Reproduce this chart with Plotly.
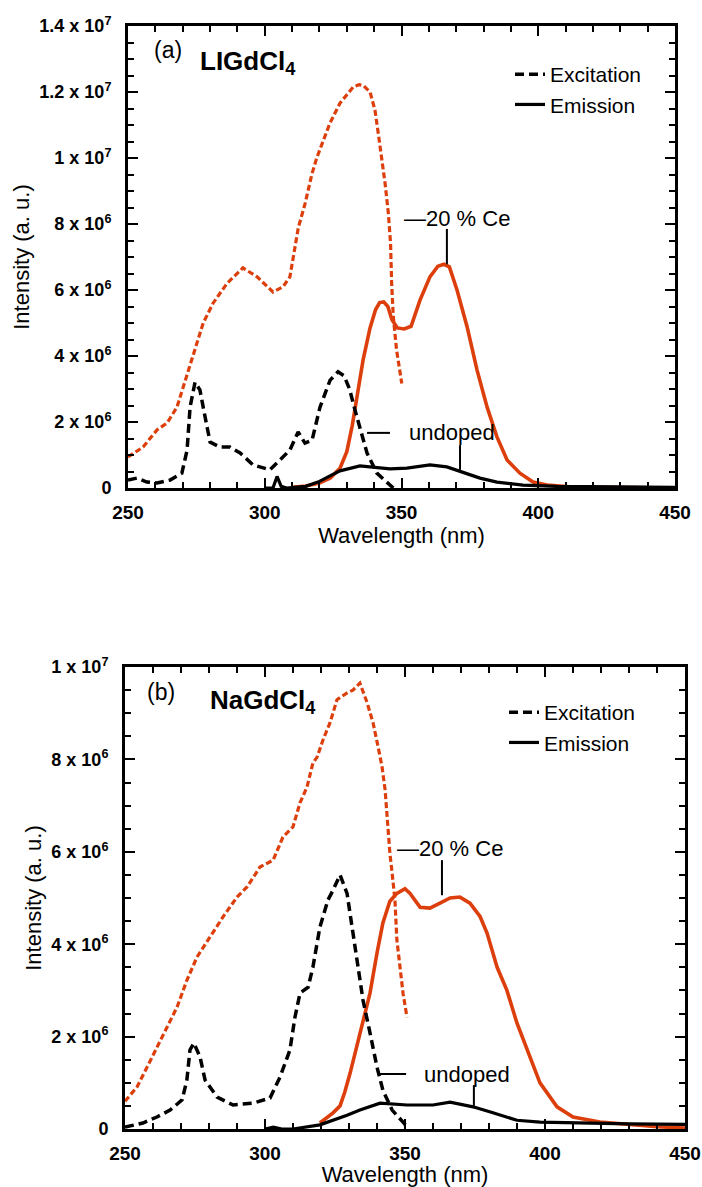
import plotly.graph_objects as go

# ---------------- DATA (intensity in units of 1e6, a.u.) ----------------
# Panel (a) LiGdCl4
a_ce_ex_wl = [250, 255.5, 260.6, 264.3, 267.9, 270.2, 272.7, 275.2, 277.5, 281.1, 286.2, 292.0, 297.2,
              303.0, 306.7, 309.2, 310.8, 312.3, 314.7, 317.2, 319.0, 321.4, 323.8, 327.5, 332.4, 334.5,
              336.0, 338.5, 340.3, 341.5, 342.8, 344.0, 345.2, 346.0, 346.4, 347.0, 348.2, 350.1]
a_ce_ex_I = [0.94, 1.24, 1.76, 1.97, 2.45, 3.06, 3.79, 4.39, 5.0, 5.6, 6.2, 6.67, 6.4,
             5.94, 6.1, 6.4, 7.15, 7.9, 8.6, 9.5, 10.0, 10.5, 11.05, 11.66, 12.16, 12.22,
             12.2, 12.0, 11.45, 10.75, 10.04, 9.23, 8.32, 7.41, 6.2, 5.19, 4.18, 3.17]

a_ce_em_wl = [310, 315, 320, 324, 327.5, 330, 332, 334, 336, 338.5, 340.5, 342, 343.5, 345, 346.5,
              348.5, 351, 353.5, 356.8, 360.4, 363.3, 365.5, 367.5, 370.3, 374.0, 377.6, 381.3, 384.9,
              388.6, 393.3, 398.1, 403.2, 412.7, 425, 440, 450]
a_ce_em_I = [0.02, 0.06, 0.15, 0.3, 0.6, 1.1, 1.9, 2.9, 3.9, 4.85, 5.4, 5.62, 5.64, 5.5, 5.1,
             4.85, 4.82, 4.9, 5.7, 6.4, 6.72, 6.78, 6.7, 6.0, 4.88, 3.58, 2.45, 1.55,
             0.85, 0.45, 0.18, 0.09, 0.03, 0.02, 0.01, 0.0]

a_un_ex_wl = [250, 253.3, 256.9, 260.6, 265.4, 269.7, 271.6, 272.7, 274.5, 276.3, 278.2, 280.0, 283.6,
              287.3, 291.0, 295.7, 301.9, 305.6, 309.2, 312.2, 314.7, 317.3, 320.2, 323.9, 326.8, 329,
              331, 333, 335, 337.4, 341.0, 344.7, 347]
a_un_ex_I = [0.24, 0.3, 0.18, 0.15, 0.24, 0.45, 1.15, 2.45, 3.2, 2.97, 2.15, 1.39, 1.24,
             1.24, 1.06, 0.7, 0.55, 0.85, 1.15, 1.7, 1.36, 1.45, 2.45, 3.27, 3.52, 3.4,
             3.0, 2.36, 1.76, 1.06, 0.45, 0.15, 0.0]

a_un_em_wl = [300, 303, 304.5, 306, 308, 315, 320, 327.5, 334.8, 339.6, 345.8, 352.0, 360.4, 366.6,
              372.5, 378.7, 384.9, 394.4, 406.9, 430, 450]
a_un_em_I = [0, 0, 0.35, 0.05, 0, 0.05, 0.2, 0.52, 0.67, 0.64, 0.58, 0.6, 0.7, 0.64,
             0.48, 0.3, 0.18, 0.09, 0.05, 0.03, 0.02]

# Panel (b) NaGdCl4
b_ce_ex_wl = [250.0, 254.3, 257.9, 261.4, 265.0, 268.6, 272.1, 275.7, 280.4, 285.0, 290.0, 293.6, 298.2,
              302.9, 306.4, 310.0, 312.5, 315.0, 317.1, 318.6, 320.7, 323.2, 325.7, 329.3, 331.4, 333.9,
              336.4, 338.6, 340.4, 341.8, 342.9, 343.6, 344.6, 345.4, 346.4, 347.1, 348.2, 349.3, 350.7]
b_ce_ex_I = [0.6, 0.91, 1.34, 1.77, 2.2, 2.64, 3.22, 3.72, 4.16, 4.59, 5.02, 5.24, 5.67,
             5.82, 6.32, 6.54, 7.06, 7.4, 7.92, 8.05, 8.42, 8.79, 9.29, 9.44, 9.5, 9.65,
             9.24, 8.79, 8.27, 7.84, 7.34, 6.75, 5.97, 5.54, 4.96, 4.09, 3.5, 2.94, 2.42]

b_ce_em_wl = [319.6, 324.3, 326.8, 328.5, 330.4, 332.2, 333.9, 335.7, 337.5, 340.0, 342.1, 344.6, 347.1,
              350.0, 351.8, 355.4, 358.9, 362.5, 366.1, 369.6, 373.2, 376.8, 379.3, 382.9, 386.4, 390.0,
              393.6, 398.2, 404.3, 410.0, 419.6, 431.4, 440, 450]
b_ce_em_I = [0.13, 0.35, 0.5, 0.8, 1.21, 1.65, 2.08, 2.5, 2.94, 3.81, 4.46, 4.93, 5.1,
             5.2, 5.1, 4.8, 4.78, 4.89, 5.0, 5.02, 4.89, 4.6, 4.24, 3.5, 3.0, 2.29,
             1.71, 1.0, 0.48, 0.26, 0.15, 0.09, 0.05, 0.02]

b_un_ex_wl = [250.0, 256.4, 261.4, 266.1, 270.4, 272.1, 273.2, 274.6, 276.8, 278.6, 282.9, 288.6, 295.7,
              301.8, 305.4, 308.9, 310.7, 312.5, 315.4, 317.1, 319.6, 322.5, 324.3, 326.8, 329.3, 331.4,
              333.2, 335.0, 337.5, 340.0, 342.1, 345.4, 349.3, 350.7]
b_un_ex_I = [0.04, 0.13, 0.26, 0.41, 0.63, 1.06, 1.71, 1.86, 1.56, 1.06, 0.69, 0.52, 0.56,
             0.67, 1.13, 1.71, 2.42, 2.94, 3.07, 3.5, 4.37, 4.96, 5.17, 5.5, 5.1, 4.24,
             3.5, 2.79, 2.08, 1.34, 0.84, 0.41, 0.15, 0.05]

b_un_em_wl = [300, 303, 306, 310, 319.6, 326.8, 329.3, 333.9, 341.1, 350.7, 360.0, 366.1, 374.3,
              381.4, 390.0, 398.2, 410.0, 430, 450]
b_un_em_I = [0.0, 0.04, 0.0, 0.0, 0.09, 0.24, 0.3, 0.41, 0.56, 0.52, 0.52, 0.58, 0.48,
             0.35, 0.19, 0.15, 0.13, 0.11, 0.1]

# Tick labels
x_tickvals = [250, 300, 350, 400, 450]
x_ticktext = ["250", "300", "350", "400", "450"]
a_y_tickvals = [0, 2, 4, 6, 8, 10, 12, 14]
a_y_ticktext = ["0", "2 x 10<sup>6</sup>", "4 x 10<sup>6</sup>", "6 x 10<sup>6</sup>", "8 x 10<sup>6</sup>",
                "1 x 10<sup>7</sup>", "1.2 x 10<sup>7</sup>", "1.4 x 10<sup>7</sup>"]
b_y_tickvals = [0, 2, 4, 6, 8, 10]
b_y_ticktext = ["0", "2 x 10<sup>6</sup>", "4 x 10<sup>6</sup>", "6 x 10<sup>6</sup>", "8 x 10<sup>6</sup>",
                "1 x 10<sup>7</sup>"]

ORANGE = "#DC3F0C"
FONT = "Liberation Sans, Arial, sans-serif"

fig = go.Figure()

def add_panel(xa, ya, leg, ce_ex, ce_em, un_ex, un_em):
    fig.add_trace(go.Scatter(x=ce_ex[0], y=ce_ex[1], mode="lines", xaxis=xa, yaxis=ya,
                             line=dict(color=ORANGE, width=3.2, dash="6px,3px"), showlegend=False))
    fig.add_trace(go.Scatter(x=ce_em[0], y=ce_em[1], mode="lines", xaxis=xa, yaxis=ya,
                             line=dict(color=ORANGE, width=3.6), showlegend=False))
    fig.add_trace(go.Scatter(x=un_ex[0], y=un_ex[1], mode="lines", xaxis=xa, yaxis=ya, name="Excitation",
                             line=dict(color="black", width=3.5, dash="9px,5px"), legend=leg))
    fig.add_trace(go.Scatter(x=un_em[0], y=un_em[1], mode="lines", xaxis=xa, yaxis=ya, name="Emission",
                             line=dict(color="black", width=3.2), legend=leg))

add_panel("x", "y", "legend", (a_ce_ex_wl, a_ce_ex_I), (a_ce_em_wl, a_ce_em_I),
          (a_un_ex_wl, a_un_ex_I), (a_un_em_wl, a_un_em_I))
add_panel("x2", "y2", "legend2", (b_ce_ex_wl, b_ce_ex_I), (b_ce_em_wl, b_ce_em_I),
          (b_un_ex_wl, b_un_ex_I), (b_un_em_wl, b_un_em_I))

W, H = 702, 1187

def xaxis(domain, anchor):
    return dict(domain=domain, anchor=anchor, range=[250, 450], tickmode="array",
                tickvals=x_tickvals, ticktext=["<b>%s</b>" % t for t in x_ticktext],
                ticks="inside", ticklen=10, tickwidth=2, tickcolor="black",
                minor=dict(tickmode="linear", tick0=250, dtick=10, ticks="inside", ticklen=6,
                           tickwidth=2, tickcolor="black"),
                showline=True, linewidth=3, linecolor="black", mirror="allticks",
                showgrid=False, zeroline=False, tickfont=dict(size=19, family=FONT, color="black"),
                ticklabelstandoff=5, automargin=False,
                title=dict(text="Wavelength (nm)", font=dict(size=22, family=FONT, color="black"), standoff=6))

def yaxis(domain, anchor, rng, tv, tt):
    return dict(domain=domain, anchor=anchor, range=rng, tickmode="array",
                tickvals=tv, ticktext=["<b>%s</b>" % t for t in tt],
                ticks="inside", ticklen=10, tickwidth=2, tickcolor="black",
                minor=dict(tickmode="linear", tick0=0, dtick=0.5, ticks="inside", ticklen=6,
                           tickwidth=2, tickcolor="black"),
                showline=True, linewidth=3, linecolor="black", mirror="allticks",
                showgrid=False, zeroline=False, tickfont=dict(size=18, family=FONT, color="black"),
                ticklabelstandoff=10, automargin=False,
                title=dict(text="Intensity (a. u.)", font=dict(size=22, family=FONT, color="black"), standoff=4))

xa_dom = [128 / W, 675 / W]
ya_dom = [1 - 488 / H, 1 - 26 / H]
xb_dom = [125 / W, 685 / W]
yb_dom = [1 - 1129 / H, 1 - 667 / H]

legend_common = dict(xanchor="left", yanchor="top", bgcolor="rgba(0,0,0,0)", borderwidth=0,
                     font=dict(size=21, family=FONT, color="black"), tracegroupgap=0, itemwidth=30)

fig.update_layout(
    width=W, height=H, margin=dict(l=0, r=0, t=0, b=0),
    paper_bgcolor="white", plot_bgcolor="white",
    font=dict(family=FONT, color="black"),
    xaxis=xaxis(xa_dom, "y"),
    yaxis=yaxis(ya_dom, "x", [0, 14], a_y_tickvals, a_y_ticktext),
    xaxis2=xaxis(xb_dom, "y2"),
    yaxis2=yaxis(yb_dom, "x2", [0, 10], b_y_tickvals, b_y_ticktext),
    legend=dict(x=510 / W, y=1 - 54 / H, **legend_common),
    legend2=dict(x=504 / W, y=1 - 692 / H, **legend_common),
)

# Text labels (data coordinates)
ann_a = [("(a)", 264.6, 13.27, 23, False), ("<b>LIGdCl<sub>4</sub></b>", 275.6, 12.9, 26, True)]
ann_b = [("(b)", 262.9, 9.46, 23, False), ("<b>NaGdCl<sub>4</sub></b>", 279.6, 9.25, 26, True)]
for txt, x, y, size, left in ann_a:
    fig.add_annotation(text=txt, x=x, y=y, xref="x", yref="y", showarrow=False,
                       xanchor="left" if left else "center", font=dict(size=size, family=FONT, color="black"))
for txt, x, y, size, left in ann_b:
    fig.add_annotation(text=txt, x=x, y=y, xref="x2", yref="y2", showarrow=False,
                       xanchor="left" if left else "center", font=dict(size=size, family=FONT, color="black"))

# "20 % Ce" and "undoped" labels with leader lines
labels = [
    ("x", "y", "\u201420 % Ce", 350.2, 8.18, (366.6, 7.85, 366.6, 6.78), None, None),
    ("x", "y", "undoped", 352.0, 1.67, (371.4, 1.3, 371.4, 0.55), (337.4, 345.8), 1.67),
    ("x2", "y2", "\u201420 % Ce", 346.4, 6.08, (363.2, 5.82, 363.2, 5.06), None, None),
    ("x2", "y2", "undoped", 356.1, 1.19, (374.6, 0.95, 374.6, 0.45), (341.1, 350.4), 1.19),
]
for xr, yr, txt, tx, ty, vline, hl, hy in labels:
    fig.add_annotation(text=txt, x=tx, y=ty, xref=xr, yref=yr, showarrow=False, xanchor="left",
                       yanchor="middle", font=dict(size=22, family=FONT, color="black"))
    fig.add_shape(type="line", xref=xr, yref=yr, x0=vline[0], y0=vline[1], x1=vline[2], y1=vline[3],
                  line=dict(color="black", width=2))
    if hl:
        fig.add_shape(type="line", xref=xr, yref=yr, x0=hl[0], y0=hy, x1=hl[1], y1=hy,
                      line=dict(color="black", width=2))

fig.write_html("out.html")
